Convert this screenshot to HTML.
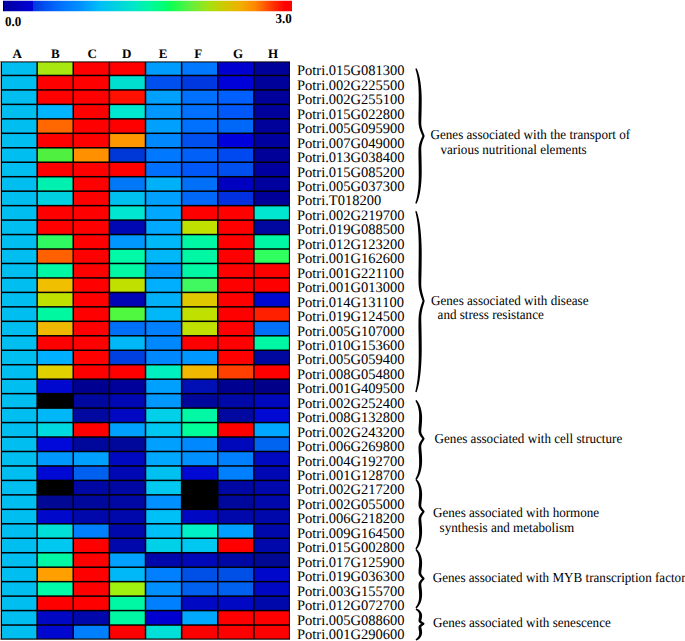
<!DOCTYPE html>
<html><head><meta charset="utf-8"><style>
html,body{margin:0;padding:0;background:#fff;width:685px;height:641px;overflow:hidden;font-family:"Liberation Serif",serif;}
svg{display:block;text-rendering:geometricPrecision}
</style></head><body>
<svg width="685" height="641" viewBox="0 0 685 641"><defs><linearGradient id="cb" x1="3" x2="292" y1="0" y2="0" gradientUnits="userSpaceOnUse"><stop offset="0.0000" stop-color="#000000"/><stop offset="0.0035" stop-color="#000000"/><stop offset="0.0052" stop-color="#0000A0"/><stop offset="0.1038" stop-color="#0000D8"/><stop offset="0.1048" stop-color="#0038E0"/><stop offset="0.1453" stop-color="#0050F0"/><stop offset="0.1972" stop-color="#0070FF"/><stop offset="0.2664" stop-color="#0090FF"/><stop offset="0.3356" stop-color="#00BEF8"/><stop offset="0.3875" stop-color="#00D0E0"/><stop offset="0.4567" stop-color="#00E8C8"/><stop offset="0.5087" stop-color="#00F8A0"/><stop offset="0.5606" stop-color="#00FF70"/><stop offset="0.5848" stop-color="#10FF50"/><stop offset="0.6471" stop-color="#60F040"/><stop offset="0.7163" stop-color="#A8E010"/><stop offset="0.7682" stop-color="#D0C800"/><stop offset="0.8201" stop-color="#F0B000"/><stop offset="0.8720" stop-color="#FF8800"/><stop offset="0.9239" stop-color="#FF4000"/><stop offset="0.9758" stop-color="#FF0000"/><stop offset="1.0000" stop-color="#FF0000"/></linearGradient></defs><rect x="3" y="0.75" width="289" height="10.5" fill="url(#cb)"/><g font-family="Liberation Serif" font-weight="bold" font-size="13" fill="#000"><text transform="translate(5.1,25.9) scale(1,1.05)">0.0</text><text transform="translate(275.6,23.1) scale(1,1.05)">3.0</text><text x="17.2" y="57.6" text-anchor="middle">A</text><text x="55.3" y="57.6" text-anchor="middle">B</text><text x="92.2" y="57.6" text-anchor="middle">C</text><text x="126.7" y="57.6" text-anchor="middle">D</text><text x="163" y="57.6" text-anchor="middle">E</text><text x="198.2" y="57.6" text-anchor="middle">F</text><text x="238" y="57.6" text-anchor="middle">G</text><text x="273" y="57.6" text-anchor="middle">H</text></g><rect x="0" y="61" width="290" height="579" fill="#8C8484"/><rect x="0" y="61.6" width="1" height="578" fill="#BCA8A2"/><rect x="1" y="61.8" width="289" height="577.6" fill="#000"/><rect x="2" y="62.4" width="34.38" height="12.31" fill="#00BEF0"/><rect x="37.88" y="62.4" width="34.62" height="12.31" fill="#A8E810"/><rect x="74" y="62.4" width="34.62" height="12.31" fill="#FF0000"/><rect x="110.12" y="62.4" width="34.62" height="12.31" fill="#FF0000"/><rect x="146.25" y="62.4" width="34.62" height="12.31" fill="#009CFF"/><rect x="182.38" y="62.4" width="34.62" height="12.31" fill="#0078FF"/><rect x="218.5" y="62.4" width="34.62" height="12.31" fill="#0000D0"/><rect x="254.62" y="62.4" width="34.27" height="12.31" fill="#00009A"/><rect x="2" y="76.21" width="34.38" height="12.96" fill="#00BEF0"/><rect x="37.88" y="76.21" width="34.62" height="12.96" fill="#FF0000"/><rect x="74" y="76.21" width="34.62" height="12.96" fill="#FF0000"/><rect x="110.12" y="76.21" width="34.62" height="12.96" fill="#00E0D0"/><rect x="146.25" y="76.21" width="34.62" height="12.96" fill="#0050F0"/><rect x="182.38" y="76.21" width="34.62" height="12.96" fill="#0038E0"/><rect x="218.5" y="76.21" width="34.62" height="12.96" fill="#0000D8"/><rect x="254.62" y="76.21" width="34.27" height="12.96" fill="#00009A"/><rect x="2" y="90.67" width="34.38" height="12.96" fill="#00BEF0"/><rect x="37.88" y="90.67" width="34.62" height="12.96" fill="#FF0000"/><rect x="74" y="90.67" width="34.62" height="12.96" fill="#FF0000"/><rect x="110.12" y="90.67" width="34.62" height="12.96" fill="#FF1000"/><rect x="146.25" y="90.67" width="34.62" height="12.96" fill="#00A0FF"/><rect x="182.38" y="90.67" width="34.62" height="12.96" fill="#0070FF"/><rect x="218.5" y="90.67" width="34.62" height="12.96" fill="#0060FF"/><rect x="254.62" y="90.67" width="34.27" height="12.96" fill="#00009A"/><rect x="2" y="105.14" width="34.38" height="12.96" fill="#00BEF0"/><rect x="37.88" y="105.14" width="34.62" height="12.96" fill="#00B4FF"/><rect x="74" y="105.14" width="34.62" height="12.96" fill="#FF0000"/><rect x="110.12" y="105.14" width="34.62" height="12.96" fill="#00E8D0"/><rect x="146.25" y="105.14" width="34.62" height="12.96" fill="#0098FF"/><rect x="182.38" y="105.14" width="34.62" height="12.96" fill="#0070FF"/><rect x="218.5" y="105.14" width="34.62" height="12.96" fill="#0058F8"/><rect x="254.62" y="105.14" width="34.27" height="12.96" fill="#00009A"/><rect x="2" y="119.6" width="34.38" height="12.96" fill="#00BEF0"/><rect x="37.88" y="119.6" width="34.62" height="12.96" fill="#FF6800"/><rect x="74" y="119.6" width="34.62" height="12.96" fill="#FF0000"/><rect x="110.12" y="119.6" width="34.62" height="12.96" fill="#FF0000"/><rect x="146.25" y="119.6" width="34.62" height="12.96" fill="#00A0FF"/><rect x="182.38" y="119.6" width="34.62" height="12.96" fill="#0070FF"/><rect x="218.5" y="119.6" width="34.62" height="12.96" fill="#0068F8"/><rect x="254.62" y="119.6" width="34.27" height="12.96" fill="#00009A"/><rect x="2" y="134.06" width="34.38" height="12.96" fill="#00BEF0"/><rect x="37.88" y="134.06" width="34.62" height="12.96" fill="#FF0000"/><rect x="74" y="134.06" width="34.62" height="12.96" fill="#FF0000"/><rect x="110.12" y="134.06" width="34.62" height="12.96" fill="#FF9800"/><rect x="146.25" y="134.06" width="34.62" height="12.96" fill="#0088FF"/><rect x="182.38" y="134.06" width="34.62" height="12.96" fill="#0050F0"/><rect x="218.5" y="134.06" width="34.62" height="12.96" fill="#0000DC"/><rect x="254.62" y="134.06" width="34.27" height="12.96" fill="#00009E"/><rect x="2" y="148.53" width="34.38" height="12.96" fill="#00BEF0"/><rect x="37.88" y="148.53" width="34.62" height="12.96" fill="#50F040"/><rect x="74" y="148.53" width="34.62" height="12.96" fill="#FF9000"/><rect x="110.12" y="148.53" width="34.62" height="12.96" fill="#0038D8"/><rect x="146.25" y="148.53" width="34.62" height="12.96" fill="#0078FF"/><rect x="182.38" y="148.53" width="34.62" height="12.96" fill="#0060F8"/><rect x="218.5" y="148.53" width="34.62" height="12.96" fill="#0048F0"/><rect x="254.62" y="148.53" width="34.27" height="12.96" fill="#000098"/><rect x="2" y="162.99" width="34.38" height="12.96" fill="#00BEF0"/><rect x="37.88" y="162.99" width="34.62" height="12.96" fill="#FF0000"/><rect x="74" y="162.99" width="34.62" height="12.96" fill="#FF0000"/><rect x="110.12" y="162.99" width="34.62" height="12.96" fill="#FF0000"/><rect x="146.25" y="162.99" width="34.62" height="12.96" fill="#0070FF"/><rect x="182.38" y="162.99" width="34.62" height="12.96" fill="#0058F8"/><rect x="218.5" y="162.99" width="34.62" height="12.96" fill="#0050F0"/><rect x="254.62" y="162.99" width="34.27" height="12.96" fill="#00009E"/><rect x="2" y="177.45" width="34.38" height="12.96" fill="#00BEF0"/><rect x="37.88" y="177.45" width="34.62" height="12.96" fill="#00F0B0"/><rect x="74" y="177.45" width="34.62" height="12.96" fill="#FF0000"/><rect x="110.12" y="177.45" width="34.62" height="12.96" fill="#0078F8"/><rect x="146.25" y="177.45" width="34.62" height="12.96" fill="#00B0F8"/><rect x="182.38" y="177.45" width="34.62" height="12.96" fill="#0070F8"/><rect x="218.5" y="177.45" width="34.62" height="12.96" fill="#0000C0"/><rect x="254.62" y="177.45" width="34.27" height="12.96" fill="#00009E"/><rect x="2" y="191.91" width="34.38" height="12.96" fill="#00BEF0"/><rect x="37.88" y="191.91" width="34.62" height="12.96" fill="#00D0E0"/><rect x="74" y="191.91" width="34.62" height="12.96" fill="#FF0000"/><rect x="110.12" y="191.91" width="34.62" height="12.96" fill="#00C0F0"/><rect x="146.25" y="191.91" width="34.62" height="12.96" fill="#00A0FF"/><rect x="182.38" y="191.91" width="34.62" height="12.96" fill="#0068F8"/><rect x="218.5" y="191.91" width="34.62" height="12.96" fill="#0030E0"/><rect x="254.62" y="191.91" width="34.27" height="12.96" fill="#000098"/><rect x="2" y="206.38" width="34.38" height="12.96" fill="#00BEF0"/><rect x="37.88" y="206.38" width="34.62" height="12.96" fill="#FF0000"/><rect x="74" y="206.38" width="34.62" height="12.96" fill="#FF0000"/><rect x="110.12" y="206.38" width="34.62" height="12.96" fill="#00E6D0"/><rect x="146.25" y="206.38" width="34.62" height="12.96" fill="#00A8FF"/><rect x="182.38" y="206.38" width="34.62" height="12.96" fill="#FF0000"/><rect x="218.5" y="206.38" width="34.62" height="12.96" fill="#FF0000"/><rect x="254.62" y="206.38" width="34.27" height="12.96" fill="#00E6D0"/><rect x="2" y="220.84" width="34.38" height="12.96" fill="#00BEF0"/><rect x="37.88" y="220.84" width="34.62" height="12.96" fill="#FF0000"/><rect x="74" y="220.84" width="34.62" height="12.96" fill="#FF0000"/><rect x="110.12" y="220.84" width="34.62" height="12.96" fill="#0008B4"/><rect x="146.25" y="220.84" width="34.62" height="12.96" fill="#00A8FF"/><rect x="182.38" y="220.84" width="34.62" height="12.96" fill="#C0E000"/><rect x="218.5" y="220.84" width="34.62" height="12.96" fill="#FF0000"/><rect x="254.62" y="220.84" width="34.27" height="12.96" fill="#0008A0"/><rect x="2" y="235.3" width="34.38" height="12.96" fill="#00BEF0"/><rect x="37.88" y="235.3" width="34.62" height="12.96" fill="#30F860"/><rect x="74" y="235.3" width="34.62" height="12.96" fill="#FF0000"/><rect x="110.12" y="235.3" width="34.62" height="12.96" fill="#0098FF"/><rect x="146.25" y="235.3" width="34.62" height="12.96" fill="#00B8F8"/><rect x="182.38" y="235.3" width="34.62" height="12.96" fill="#00F8A4"/><rect x="218.5" y="235.3" width="34.62" height="12.96" fill="#FF0000"/><rect x="254.62" y="235.3" width="34.27" height="12.96" fill="#00F8A4"/><rect x="2" y="249.76" width="34.38" height="12.96" fill="#00BEF0"/><rect x="37.88" y="249.76" width="34.62" height="12.96" fill="#FF6000"/><rect x="74" y="249.76" width="34.62" height="12.96" fill="#FF0000"/><rect x="110.12" y="249.76" width="34.62" height="12.96" fill="#00FAA8"/><rect x="146.25" y="249.76" width="34.62" height="12.96" fill="#00B8F8"/><rect x="182.38" y="249.76" width="34.62" height="12.96" fill="#00F8A4"/><rect x="218.5" y="249.76" width="34.62" height="12.96" fill="#FF0000"/><rect x="254.62" y="249.76" width="34.27" height="12.96" fill="#30FF60"/><rect x="2" y="264.23" width="34.38" height="12.96" fill="#00BEF0"/><rect x="37.88" y="264.23" width="34.62" height="12.96" fill="#00F8A4"/><rect x="74" y="264.23" width="34.62" height="12.96" fill="#FF0000"/><rect x="110.12" y="264.23" width="34.62" height="12.96" fill="#00F8A4"/><rect x="146.25" y="264.23" width="34.62" height="12.96" fill="#0098FF"/><rect x="182.38" y="264.23" width="34.62" height="12.96" fill="#00F8A4"/><rect x="218.5" y="264.23" width="34.62" height="12.96" fill="#FF0000"/><rect x="254.62" y="264.23" width="34.27" height="12.96" fill="#FF0000"/><rect x="2" y="278.69" width="34.38" height="12.96" fill="#00BEF0"/><rect x="37.88" y="278.69" width="34.62" height="12.96" fill="#F0C000"/><rect x="74" y="278.69" width="34.62" height="12.96" fill="#FF0000"/><rect x="110.12" y="278.69" width="34.62" height="12.96" fill="#C0E000"/><rect x="146.25" y="278.69" width="34.62" height="12.96" fill="#00B0FF"/><rect x="182.38" y="278.69" width="34.62" height="12.96" fill="#40F860"/><rect x="218.5" y="278.69" width="34.62" height="12.96" fill="#FF0000"/><rect x="254.62" y="278.69" width="34.27" height="12.96" fill="#FF0000"/><rect x="2" y="293.15" width="34.38" height="12.96" fill="#00BEF0"/><rect x="37.88" y="293.15" width="34.62" height="12.96" fill="#C0E000"/><rect x="74" y="293.15" width="34.62" height="12.96" fill="#FF0000"/><rect x="110.12" y="293.15" width="34.62" height="12.96" fill="#0004B4"/><rect x="146.25" y="293.15" width="34.62" height="12.96" fill="#00B0F8"/><rect x="182.38" y="293.15" width="34.62" height="12.96" fill="#E0C800"/><rect x="218.5" y="293.15" width="34.62" height="12.96" fill="#FF0000"/><rect x="254.62" y="293.15" width="34.27" height="12.96" fill="#0008D0"/><rect x="2" y="307.61" width="34.38" height="12.96" fill="#00BEF0"/><rect x="37.88" y="307.61" width="34.62" height="12.96" fill="#00F8A0"/><rect x="74" y="307.61" width="34.62" height="12.96" fill="#FF0000"/><rect x="110.12" y="307.61" width="34.62" height="12.96" fill="#50F840"/><rect x="146.25" y="307.61" width="34.62" height="12.96" fill="#00B8F8"/><rect x="182.38" y="307.61" width="34.62" height="12.96" fill="#C0E000"/><rect x="218.5" y="307.61" width="34.62" height="12.96" fill="#FF0000"/><rect x="254.62" y="307.61" width="34.27" height="12.96" fill="#FF2000"/><rect x="2" y="322.07" width="34.38" height="12.96" fill="#00BEF0"/><rect x="37.88" y="322.07" width="34.62" height="12.96" fill="#F0B800"/><rect x="74" y="322.07" width="34.62" height="12.96" fill="#FF0000"/><rect x="110.12" y="322.07" width="34.62" height="12.96" fill="#0070F8"/><rect x="146.25" y="322.07" width="34.62" height="12.96" fill="#0080FF"/><rect x="182.38" y="322.07" width="34.62" height="12.96" fill="#C0E000"/><rect x="218.5" y="322.07" width="34.62" height="12.96" fill="#FF0000"/><rect x="254.62" y="322.07" width="34.27" height="12.96" fill="#0070F8"/><rect x="2" y="336.54" width="34.38" height="12.96" fill="#00BEF0"/><rect x="37.88" y="336.54" width="34.62" height="12.96" fill="#FF0000"/><rect x="74" y="336.54" width="34.62" height="12.96" fill="#FF0000"/><rect x="110.12" y="336.54" width="34.62" height="12.96" fill="#00B8F8"/><rect x="146.25" y="336.54" width="34.62" height="12.96" fill="#0088FF"/><rect x="182.38" y="336.54" width="34.62" height="12.96" fill="#FF0000"/><rect x="218.5" y="336.54" width="34.62" height="12.96" fill="#FF0000"/><rect x="254.62" y="336.54" width="34.27" height="12.96" fill="#00F8A4"/><rect x="2" y="351" width="34.38" height="12.96" fill="#00BEF0"/><rect x="37.88" y="351" width="34.62" height="12.96" fill="#00B0FF"/><rect x="74" y="351" width="34.62" height="12.96" fill="#FF0000"/><rect x="110.12" y="351" width="34.62" height="12.96" fill="#0040E0"/><rect x="146.25" y="351" width="34.62" height="12.96" fill="#0088FF"/><rect x="182.38" y="351" width="34.62" height="12.96" fill="#0098FF"/><rect x="218.5" y="351" width="34.62" height="12.96" fill="#FF0000"/><rect x="254.62" y="351" width="34.27" height="12.96" fill="#0008A0"/><rect x="2" y="365.46" width="34.38" height="12.96" fill="#00BEF0"/><rect x="37.88" y="365.46" width="34.62" height="12.96" fill="#E0D000"/><rect x="74" y="365.46" width="34.62" height="12.96" fill="#FF0000"/><rect x="110.12" y="365.46" width="34.62" height="12.96" fill="#FF0000"/><rect x="146.25" y="365.46" width="34.62" height="12.96" fill="#00F0C0"/><rect x="182.38" y="365.46" width="34.62" height="12.96" fill="#F0B800"/><rect x="218.5" y="365.46" width="34.62" height="12.96" fill="#FF4000"/><rect x="254.62" y="365.46" width="34.27" height="12.96" fill="#FF0000"/><rect x="2" y="379.93" width="34.38" height="12.96" fill="#00BEF0"/><rect x="37.88" y="379.93" width="34.62" height="12.96" fill="#0008D0"/><rect x="74" y="379.93" width="34.62" height="12.96" fill="#000090"/><rect x="110.12" y="379.93" width="34.62" height="12.96" fill="#00009A"/><rect x="146.25" y="379.93" width="34.62" height="12.96" fill="#00A0FF"/><rect x="182.38" y="379.93" width="34.62" height="12.96" fill="#0010B4"/><rect x="218.5" y="379.93" width="34.62" height="12.96" fill="#000090"/><rect x="254.62" y="379.93" width="34.27" height="12.96" fill="#000088"/><rect x="2" y="394.39" width="34.38" height="12.96" fill="#00BEF0"/><rect x="37.88" y="394.39" width="34.62" height="12.96" fill="#000000"/><rect x="74" y="394.39" width="34.62" height="12.96" fill="#0008A0"/><rect x="110.12" y="394.39" width="34.62" height="12.96" fill="#0008B4"/><rect x="146.25" y="394.39" width="34.62" height="12.96" fill="#0098FF"/><rect x="182.38" y="394.39" width="34.62" height="12.96" fill="#00089C"/><rect x="218.5" y="394.39" width="34.62" height="12.96" fill="#0008A8"/><rect x="254.62" y="394.39" width="34.27" height="12.96" fill="#0008BC"/><rect x="2" y="408.85" width="34.38" height="12.96" fill="#00BEF0"/><rect x="37.88" y="408.85" width="34.62" height="12.96" fill="#00B8F8"/><rect x="74" y="408.85" width="34.62" height="12.96" fill="#0008A0"/><rect x="110.12" y="408.85" width="34.62" height="12.96" fill="#0008C4"/><rect x="146.25" y="408.85" width="34.62" height="12.96" fill="#00D0E8"/><rect x="182.38" y="408.85" width="34.62" height="12.96" fill="#00F8A4"/><rect x="218.5" y="408.85" width="34.62" height="12.96" fill="#0008A0"/><rect x="254.62" y="408.85" width="34.27" height="12.96" fill="#0008D4"/><rect x="2" y="423.31" width="34.38" height="12.96" fill="#00BEF0"/><rect x="37.88" y="423.31" width="34.62" height="12.96" fill="#00D8E0"/><rect x="74" y="423.31" width="34.62" height="12.96" fill="#FF0000"/><rect x="110.12" y="423.31" width="34.62" height="12.96" fill="#00A0FF"/><rect x="146.25" y="423.31" width="34.62" height="12.96" fill="#00C8F0"/><rect x="182.38" y="423.31" width="34.62" height="12.96" fill="#00FF98"/><rect x="218.5" y="423.31" width="34.62" height="12.96" fill="#FF0000"/><rect x="254.62" y="423.31" width="34.27" height="12.96" fill="#00A8FF"/><rect x="2" y="437.78" width="34.38" height="12.96" fill="#00BEF0"/><rect x="37.88" y="437.78" width="34.62" height="12.96" fill="#0008DA"/><rect x="74" y="437.78" width="34.62" height="12.96" fill="#00089C"/><rect x="110.12" y="437.78" width="34.62" height="12.96" fill="#00089C"/><rect x="146.25" y="437.78" width="34.62" height="12.96" fill="#00A0FF"/><rect x="182.38" y="437.78" width="34.62" height="12.96" fill="#0088FF"/><rect x="218.5" y="437.78" width="34.62" height="12.96" fill="#0008BC"/><rect x="254.62" y="437.78" width="34.27" height="12.96" fill="#0064F0"/><rect x="2" y="452.24" width="34.38" height="12.96" fill="#00BEF0"/><rect x="37.88" y="452.24" width="34.62" height="12.96" fill="#0098FF"/><rect x="74" y="452.24" width="34.62" height="12.96" fill="#00A0FF"/><rect x="110.12" y="452.24" width="34.62" height="12.96" fill="#0008C0"/><rect x="146.25" y="452.24" width="34.62" height="12.96" fill="#00A8FF"/><rect x="182.38" y="452.24" width="34.62" height="12.96" fill="#0090FF"/><rect x="218.5" y="452.24" width="34.62" height="12.96" fill="#0080FF"/><rect x="254.62" y="452.24" width="34.27" height="12.96" fill="#0008C0"/><rect x="2" y="466.7" width="34.38" height="12.96" fill="#00BEF0"/><rect x="37.88" y="466.7" width="34.62" height="12.96" fill="#0008D4"/><rect x="74" y="466.7" width="34.62" height="12.96" fill="#0060F0"/><rect x="110.12" y="466.7" width="34.62" height="12.96" fill="#0008B4"/><rect x="146.25" y="466.7" width="34.62" height="12.96" fill="#00C0F0"/><rect x="182.38" y="466.7" width="34.62" height="12.96" fill="#0008D4"/><rect x="218.5" y="466.7" width="34.62" height="12.96" fill="#0080FF"/><rect x="254.62" y="466.7" width="34.27" height="12.96" fill="#0008B4"/><rect x="2" y="481.16" width="34.38" height="12.96" fill="#00BEF0"/><rect x="37.88" y="481.16" width="34.62" height="12.96" fill="#000000"/><rect x="74" y="481.16" width="34.62" height="12.96" fill="#0008A4"/><rect x="110.12" y="481.16" width="34.62" height="12.96" fill="#0008A4"/><rect x="146.25" y="481.16" width="34.62" height="12.96" fill="#00C8F0"/><rect x="182.38" y="481.16" width="34.62" height="12.96" fill="#000000"/><rect x="218.5" y="481.16" width="34.62" height="12.96" fill="#0008A4"/><rect x="254.62" y="481.16" width="34.27" height="12.96" fill="#0008AC"/><rect x="2" y="495.62" width="34.38" height="12.96" fill="#00BEF0"/><rect x="37.88" y="495.62" width="34.62" height="12.96" fill="#000894"/><rect x="74" y="495.62" width="34.62" height="12.96" fill="#00089C"/><rect x="110.12" y="495.62" width="34.62" height="12.96" fill="#0008A4"/><rect x="146.25" y="495.62" width="34.62" height="12.96" fill="#0090FF"/><rect x="182.38" y="495.62" width="34.62" height="12.96" fill="#000000"/><rect x="218.5" y="495.62" width="34.62" height="12.96" fill="#00089C"/><rect x="254.62" y="495.62" width="34.27" height="12.96" fill="#0008AC"/><rect x="2" y="510.09" width="34.38" height="12.96" fill="#00BEF0"/><rect x="37.88" y="510.09" width="34.62" height="12.96" fill="#0008CC"/><rect x="74" y="510.09" width="34.62" height="12.96" fill="#0008AC"/><rect x="110.12" y="510.09" width="34.62" height="12.96" fill="#0008AC"/><rect x="146.25" y="510.09" width="34.62" height="12.96" fill="#00C0F8"/><rect x="182.38" y="510.09" width="34.62" height="12.96" fill="#0008C4"/><rect x="218.5" y="510.09" width="34.62" height="12.96" fill="#0008AC"/><rect x="254.62" y="510.09" width="34.27" height="12.96" fill="#0008AC"/><rect x="2" y="524.55" width="34.38" height="12.96" fill="#00BEF0"/><rect x="37.88" y="524.55" width="34.62" height="12.96" fill="#00E0D8"/><rect x="74" y="524.55" width="34.62" height="12.96" fill="#0080FF"/><rect x="110.12" y="524.55" width="34.62" height="12.96" fill="#0008AC"/><rect x="146.25" y="524.55" width="34.62" height="12.96" fill="#00C0F8"/><rect x="182.38" y="524.55" width="34.62" height="12.96" fill="#00F0C8"/><rect x="218.5" y="524.55" width="34.62" height="12.96" fill="#00A0FF"/><rect x="254.62" y="524.55" width="34.27" height="12.96" fill="#0008AC"/><rect x="2" y="539.01" width="34.38" height="12.96" fill="#00BEF0"/><rect x="37.88" y="539.01" width="34.62" height="12.96" fill="#00C8F0"/><rect x="74" y="539.01" width="34.62" height="12.96" fill="#FF0000"/><rect x="110.12" y="539.01" width="34.62" height="12.96" fill="#0008AC"/><rect x="146.25" y="539.01" width="34.62" height="12.96" fill="#00D0E8"/><rect x="182.38" y="539.01" width="34.62" height="12.96" fill="#00C8F0"/><rect x="218.5" y="539.01" width="34.62" height="12.96" fill="#FF0000"/><rect x="254.62" y="539.01" width="34.27" height="12.96" fill="#0008AC"/><rect x="2" y="553.48" width="34.38" height="12.96" fill="#00BEF0"/><rect x="37.88" y="553.48" width="34.62" height="12.96" fill="#00F8A4"/><rect x="74" y="553.48" width="34.62" height="12.96" fill="#FF0000"/><rect x="110.12" y="553.48" width="34.62" height="12.96" fill="#00A0FF"/><rect x="146.25" y="553.48" width="34.62" height="12.96" fill="#0008AC"/><rect x="182.38" y="553.48" width="34.62" height="12.96" fill="#0008B8"/><rect x="218.5" y="553.48" width="34.62" height="12.96" fill="#0008A4"/><rect x="254.62" y="553.48" width="34.27" height="12.96" fill="#000894"/><rect x="2" y="567.94" width="34.38" height="12.96" fill="#00BEF0"/><rect x="37.88" y="567.94" width="34.62" height="12.96" fill="#FFA000"/><rect x="74" y="567.94" width="34.62" height="12.96" fill="#FF0000"/><rect x="110.12" y="567.94" width="34.62" height="12.96" fill="#00B8F8"/><rect x="146.25" y="567.94" width="34.62" height="12.96" fill="#0080FF"/><rect x="182.38" y="567.94" width="34.62" height="12.96" fill="#0050E8"/><rect x="218.5" y="567.94" width="34.62" height="12.96" fill="#0050E8"/><rect x="254.62" y="567.94" width="34.27" height="12.96" fill="#0008CC"/><rect x="2" y="582.4" width="34.38" height="12.96" fill="#00BEF0"/><rect x="37.88" y="582.4" width="34.62" height="12.96" fill="#00FAA8"/><rect x="74" y="582.4" width="34.62" height="12.96" fill="#FF0000"/><rect x="110.12" y="582.4" width="34.62" height="12.96" fill="#A0F010"/><rect x="146.25" y="582.4" width="34.62" height="12.96" fill="#0090FF"/><rect x="182.38" y="582.4" width="34.62" height="12.96" fill="#0060F0"/><rect x="218.5" y="582.4" width="34.62" height="12.96" fill="#0060F0"/><rect x="254.62" y="582.4" width="34.27" height="12.96" fill="#0008C4"/><rect x="2" y="596.86" width="34.38" height="12.96" fill="#00BEF0"/><rect x="37.88" y="596.86" width="34.62" height="12.96" fill="#FF0000"/><rect x="74" y="596.86" width="34.62" height="12.96" fill="#FF0000"/><rect x="110.12" y="596.86" width="34.62" height="12.96" fill="#00F8A4"/><rect x="146.25" y="596.86" width="34.62" height="12.96" fill="#0080FF"/><rect x="182.38" y="596.86" width="34.62" height="12.96" fill="#0008C4"/><rect x="218.5" y="596.86" width="34.62" height="12.96" fill="#0008C4"/><rect x="254.62" y="596.86" width="34.27" height="12.96" fill="#0008AC"/><rect x="2" y="611.33" width="34.38" height="12.96" fill="#00BEF0"/><rect x="37.88" y="611.33" width="34.62" height="12.96" fill="#0008C4"/><rect x="74" y="611.33" width="34.62" height="12.96" fill="#0008AC"/><rect x="110.12" y="611.33" width="34.62" height="12.96" fill="#00F8A4"/><rect x="146.25" y="611.33" width="34.62" height="12.96" fill="#0000D0"/><rect x="182.38" y="611.33" width="34.62" height="12.96" fill="#00A8FF"/><rect x="218.5" y="611.33" width="34.62" height="12.96" fill="#FF0000"/><rect x="254.62" y="611.33" width="34.27" height="12.96" fill="#FF0000"/><rect x="2" y="625.79" width="34.38" height="12.71" fill="#00BEF0"/><rect x="37.88" y="625.79" width="34.62" height="12.71" fill="#0008D0"/><rect x="74" y="625.79" width="34.62" height="12.71" fill="#0080FF"/><rect x="110.12" y="625.79" width="34.62" height="12.71" fill="#FF0000"/><rect x="146.25" y="625.79" width="34.62" height="12.71" fill="#00E0D8"/><rect x="182.38" y="625.79" width="34.62" height="12.71" fill="#FF0000"/><rect x="218.5" y="625.79" width="34.62" height="12.71" fill="#FF0000"/><rect x="254.62" y="625.79" width="34.27" height="12.71" fill="#FF0000"/><g font-family="Liberation Serif" font-size="14.5" fill="#000"><text x="297" y="75.4">Potri.015G081300</text><text x="297" y="89.85">Potri.002G225500</text><text x="297" y="104.3">Potri.002G255100</text><text x="297" y="118.75">Potri.015G022800</text><text x="297" y="133.2">Potri.005G095900</text><text x="297" y="147.65">Potri.007G049000</text><text x="297" y="162.1">Potri.013G038400</text><text x="297" y="176.55">Potri.015G085200</text><text x="297" y="191">Potri.005G037300</text><text x="297" y="205.45">Potri.T018200</text><text x="297" y="219.9">Potri.002G219700</text><text x="297" y="234.35">Potri.019G088500</text><text x="297" y="248.8">Potri.012G123200</text><text x="297" y="263.25">Potri.001G162600</text><text x="297" y="277.7">Potri.001G221100</text><text x="297" y="292.15">Potri.001G013000</text><text x="297" y="306.6">Potri.014G131100</text><text x="297" y="321.05">Potri.019G124500</text><text x="297" y="335.5">Potri.005G107000</text><text x="297" y="349.95">Potri.010G153600</text><text x="297" y="364.4">Potri.005G059400</text><text x="297" y="378.85">Potri.008G054800</text><text x="297" y="393.3">Potri.001G409500</text><text x="297" y="407.75">Potri.002G252400</text><text x="297" y="422.2">Potri.008G132800</text><text x="297" y="436.65">Potri.002G243200</text><text x="297" y="451.1">Potri.006G269800</text><text x="297" y="465.55">Potri.004G192700</text><text x="297" y="480">Potri.001G128700</text><text x="297" y="494.45">Potri.002G217200</text><text x="297" y="508.9">Potri.002G055000</text><text x="297" y="523.35">Potri.006G218200</text><text x="297" y="537.8">Potri.009G164500</text><text x="297" y="552.25">Potri.015G002800</text><text x="297" y="566.7">Potri.017G125900</text><text x="297" y="581.15">Potri.019G036300</text><text x="297" y="595.6">Potri.003G155700</text><text x="297" y="610.05">Potri.012G072700</text><text x="297" y="624.5">Potri.005G088600</text><text x="297" y="638.95">Potri.001G290600</text></g><path d="M415.3,68.65 L415.47,69.28 L415.68,69.94 L415.89,70.64 L416.11,71.39 L416.32,72.18 L416.53,73.02 L416.75,73.92 L416.95,74.86 L417.15,75.87 L417.35,76.93 L417.54,78.05 L417.71,79.23 L417.88,80.47 L418.03,81.78 L418.18,83.16 L418.31,84.6 L418.42,86.11 L418.52,87.7 L418.6,89.36 L418.66,91.09 L418.7,92.9 L418.72,94.8 L418.72,96.77 L418.7,98.82 L418.7,100.89 L418.69,102.79 L418.67,104.56 L418.65,106.2 L418.63,107.74 L418.61,109.19 L418.58,110.57 L418.55,111.89 L418.52,113.17 L418.5,114.43 L418.47,115.68 L418.47,116.95 L418.48,118.25 L418.5,119.59 L418.52,121 L418.55,122.49 L418.6,123.54 L418.69,124.57 L418.82,125.56 L418.99,126.52 L419.2,127.46 L419.43,128.37 L419.7,129.25 L419.98,130.11 L420.28,130.95 L420.6,131.77 L420.93,132.57 L421.27,133.36 L421.61,134.14 L421.96,134.9 L422.3,135.66 L422.55,136 L422.3,136.34 L421.96,137.09 L421.61,137.86 L421.27,138.63 L420.93,139.41 L420.6,140.21 L420.29,141.03 L419.98,141.87 L419.7,142.73 L419.43,143.61 L419.2,144.51 L418.99,145.45 L418.82,146.41 L418.69,147.4 L418.6,148.42 L418.55,149.47 L418.52,150.96 L418.5,152.36 L418.48,153.7 L418.47,154.99 L418.47,156.26 L418.5,157.51 L418.52,158.77 L418.55,160.04 L418.58,161.36 L418.61,162.73 L418.63,164.17 L418.65,165.71 L418.67,167.35 L418.69,169.11 L418.7,171.01 L418.7,173.07 L418.72,175.12 L418.72,177.08 L418.7,178.97 L418.66,180.77 L418.6,182.5 L418.52,184.16 L418.42,185.74 L418.31,187.25 L418.18,188.69 L418.04,190.06 L417.88,191.36 L417.71,192.6 L417.54,193.78 L417.35,194.9 L417.15,195.95 L416.95,196.95 L416.75,197.9 L416.53,198.79 L416.32,199.63 L416.11,200.42 L415.89,201.16 L415.68,201.86 L415.47,202.52 L415.3,203.15 L416.5,203.65 L416.83,203.06 L417.13,202.41 L417.43,201.7 L417.72,200.95 L418.01,200.15 L418.3,199.29 L418.58,198.38 L418.85,197.42 L419.12,196.39 L419.39,195.31 L419.64,194.17 L419.89,192.97 L420.12,191.7 L420.35,190.37 L420.56,188.97 L420.75,187.5 L420.93,185.96 L421.1,184.35 L421.25,182.67 L421.38,180.91 L421.49,179.07 L421.58,177.15 L421.65,175.15 L421.7,173.07 L421.7,171 L421.69,169.09 L421.67,167.32 L421.65,165.67 L421.63,164.13 L421.6,162.68 L421.58,161.3 L421.55,159.98 L421.52,158.7 L421.49,157.45 L421.47,156.2 L421.42,154.94 L421.37,153.66 L421.33,152.33 L421.29,150.95 L421.25,149.49 L421.25,148.54 L421.29,147.64 L421.37,146.75 L421.48,145.89 L421.63,145.04 L421.81,144.22 L422.01,143.4 L422.24,142.6 L422.49,141.81 L422.76,141.03 L423.04,140.25 L423.34,139.48 L423.64,138.71 L423.95,137.94 L424.26,137.18 L424.65,136 L424.26,134.82 L423.95,134.05 L423.64,133.28 L423.34,132.51 L423.04,131.74 L422.76,130.96 L422.49,130.17 L422.24,129.38 L422.01,128.58 L421.81,127.76 L421.63,126.93 L421.48,126.08 L421.37,125.22 L421.29,124.33 L421.25,123.42 L421.25,122.47 L421.29,121.01 L421.33,119.62 L421.37,118.29 L421.42,117 L421.47,115.74 L421.49,114.49 L421.52,113.23 L421.55,111.95 L421.58,110.63 L421.6,109.25 L421.63,107.79 L421.65,106.24 L421.67,104.59 L421.69,102.81 L421.7,100.9 L421.7,98.82 L421.65,96.73 L421.58,94.73 L421.49,92.81 L421.38,90.96 L421.25,89.2 L421.1,87.51 L420.93,85.89 L420.75,84.35 L420.56,82.87 L420.35,81.47 L420.12,80.13 L419.89,78.86 L419.64,77.66 L419.39,76.51 L419.12,75.43 L418.85,74.4 L418.58,73.44 L418.3,72.52 L418.01,71.66 L417.72,70.86 L417.43,70.1 L417.13,69.4 L416.83,68.74 L416.5,68.15Z" fill="#000"/><path d="M415.28,211.29 L415.45,212.12 L415.66,213 L415.87,213.93 L416.09,214.92 L416.3,215.98 L416.52,217.11 L416.73,218.3 L416.94,219.57 L417.14,220.91 L417.34,222.32 L417.53,223.82 L417.71,225.4 L417.87,227.06 L418.03,228.81 L418.17,230.64 L418.3,232.57 L418.42,234.59 L418.52,236.71 L418.6,238.93 L418.66,241.24 L418.7,243.66 L418.72,246.18 L418.72,248.81 L418.7,251.56 L418.7,254.3 L418.69,256.84 L418.67,259.2 L418.65,261.39 L418.63,263.43 L418.61,265.36 L418.58,267.19 L418.55,268.95 L418.52,270.65 L418.5,272.33 L418.47,274 L418.47,275.68 L418.48,277.41 L418.5,279.19 L418.52,281.05 L418.55,283.03 L418.6,284.39 L418.69,285.72 L418.82,287.02 L418.98,288.27 L419.19,289.49 L419.42,290.68 L419.68,291.84 L419.96,292.97 L420.26,294.07 L420.57,295.15 L420.9,296.21 L421.24,297.26 L421.58,298.29 L421.92,299.3 L422.26,300.31 L422.55,301 L422.26,301.7 L421.92,302.72 L421.58,303.75 L421.24,304.8 L420.9,305.85 L420.57,306.93 L420.26,308.02 L419.96,309.14 L419.68,310.28 L419.42,311.45 L419.19,312.65 L418.98,313.89 L418.82,315.16 L418.69,316.46 L418.6,317.81 L418.55,319.19 L418.52,321.19 L418.5,323.08 L418.48,324.88 L418.47,326.63 L418.47,328.33 L418.5,330.02 L418.52,331.72 L418.55,333.44 L418.58,335.22 L418.61,337.07 L418.63,339.03 L418.65,341.1 L418.67,343.31 L418.69,345.7 L418.7,348.27 L418.7,351.05 L418.72,353.82 L418.72,356.49 L418.7,359.04 L418.66,361.49 L418.6,363.84 L418.52,366.08 L418.42,368.22 L418.3,370.27 L418.17,372.22 L418.03,374.08 L417.87,375.85 L417.71,377.53 L417.53,379.13 L417.34,380.64 L417.14,382.08 L416.94,383.43 L416.73,384.72 L416.52,385.93 L416.3,387.06 L416.09,388.13 L415.87,389.14 L415.66,390.08 L415.45,390.97 L415.28,391.81 L416.52,392.19 L416.85,391.38 L417.15,390.5 L417.45,389.55 L417.74,388.54 L418.03,387.45 L418.31,386.3 L418.59,385.08 L418.87,383.78 L419.14,382.41 L419.4,380.95 L419.65,379.42 L419.89,377.8 L420.13,376.1 L420.35,374.31 L420.56,372.43 L420.76,370.46 L420.94,368.39 L421.1,366.22 L421.25,363.96 L421.38,361.59 L421.49,359.12 L421.58,356.54 L421.65,353.85 L421.7,351.05 L421.7,348.26 L421.69,345.68 L421.67,343.29 L421.65,341.07 L421.63,338.99 L421.6,337.03 L421.58,335.18 L421.55,333.39 L421.52,331.67 L421.49,329.97 L421.47,328.29 L421.42,326.59 L421.37,324.85 L421.33,323.06 L421.29,321.18 L421.25,319.21 L421.25,317.9 L421.29,316.64 L421.37,315.41 L421.49,314.22 L421.65,313.05 L421.83,311.91 L422.04,310.79 L422.27,309.7 L422.52,308.61 L422.79,307.55 L423.08,306.49 L423.37,305.45 L423.68,304.41 L423.99,303.38 L424.3,302.35 L424.65,301 L424.29,299.66 L423.99,298.64 L423.68,297.62 L423.37,296.6 L423.08,295.56 L422.79,294.52 L422.52,293.47 L422.27,292.4 L422.04,291.32 L421.83,290.22 L421.64,289.09 L421.49,287.94 L421.37,286.76 L421.29,285.55 L421.25,284.3 L421.25,283.01 L421.29,281.06 L421.33,279.21 L421.37,277.43 L421.42,275.72 L421.47,274.04 L421.49,272.38 L421.52,270.7 L421.55,269 L421.58,267.24 L421.6,265.4 L421.63,263.47 L421.65,261.42 L421.67,259.22 L421.69,256.86 L421.7,254.31 L421.7,251.55 L421.65,248.79 L421.58,246.13 L421.49,243.58 L421.38,241.14 L421.25,238.8 L421.1,236.56 L420.94,234.42 L420.76,232.38 L420.56,230.43 L420.35,228.57 L420.13,226.8 L419.89,225.12 L419.65,223.52 L419.4,222.01 L419.14,220.57 L418.87,219.22 L418.59,217.93 L418.31,216.72 L418.03,215.59 L417.74,214.52 L417.45,213.52 L417.15,212.58 L416.85,211.71 L416.52,210.91Z" fill="#000"/><path d="M415.37,400.78 L415.56,401.17 L415.77,401.56 L415.99,401.96 L416.22,402.38 L416.44,402.83 L416.67,403.31 L416.9,403.81 L417.12,404.35 L417.34,404.91 L417.55,405.5 L417.76,406.12 L417.95,406.78 L418.14,407.47 L418.31,408.2 L418.48,408.96 L418.62,409.76 L418.75,410.6 L418.87,411.48 L418.96,412.39 L419.04,413.35 L419.09,414.36 L419.12,415.4 L419.12,416.5 L419.1,417.64 L419.09,418.79 L419.07,419.85 L419.04,420.83 L418.99,421.75 L418.94,422.6 L418.88,423.41 L418.82,424.18 L418.76,424.92 L418.69,425.65 L418.63,426.37 L418.57,427.09 L418.54,427.82 L418.52,428.58 L418.52,429.36 L418.53,430.18 L418.55,431.05 L418.6,431.71 L418.7,432.36 L418.85,432.98 L419.03,433.58 L419.25,434.16 L419.51,434.71 L419.78,435.24 L420.08,435.75 L420.39,436.24 L420.72,436.71 L421.06,437.17 L421.4,437.62 L421.74,438.06 L422.09,438.49 L422.42,438.91 L422.55,438.7 L422.41,438.54 L422.07,438.99 L421.73,439.45 L421.38,439.91 L421.04,440.39 L420.7,440.88 L420.38,441.38 L420.07,441.9 L419.77,442.44 L419.49,443 L419.24,443.58 L419.03,444.18 L418.84,444.81 L418.7,445.46 L418.6,446.14 L418.55,446.83 L418.53,447.75 L418.52,448.62 L418.52,449.45 L418.54,450.25 L418.57,451.03 L418.63,451.79 L418.69,452.55 L418.76,453.32 L418.82,454.11 L418.88,454.93 L418.94,455.79 L418.99,456.7 L419.04,457.68 L419.07,458.73 L419.09,459.86 L419.1,461.08 L419.12,462.3 L419.12,463.46 L419.09,464.58 L419.03,465.65 L418.96,466.67 L418.87,467.65 L418.75,468.59 L418.62,469.48 L418.47,470.34 L418.31,471.15 L418.13,471.92 L417.95,472.66 L417.75,473.36 L417.54,474.02 L417.33,474.66 L417.11,475.25 L416.89,475.82 L416.66,476.35 L416.43,476.86 L416.21,477.34 L415.98,477.79 L415.76,478.22 L415.55,478.62 L415.36,479.03 L416.44,479.77 L416.76,479.44 L417.07,479.05 L417.37,478.63 L417.68,478.18 L417.99,477.7 L418.3,477.18 L418.6,476.63 L418.9,476.04 L419.2,475.42 L419.49,474.76 L419.78,474.06 L420.05,473.32 L420.32,472.54 L420.57,471.72 L420.81,470.86 L421.03,469.96 L421.24,469.01 L421.43,468.02 L421.6,466.99 L421.75,465.9 L421.87,464.77 L421.97,463.59 L422.05,462.36 L422.1,461.09 L422.09,459.82 L422.07,458.65 L422.03,457.56 L421.99,456.55 L421.93,455.61 L421.87,454.72 L421.81,453.88 L421.74,453.07 L421.68,452.3 L421.62,451.55 L421.56,450.8 L421.48,450.06 L421.41,449.3 L421.34,448.52 L421.29,447.7 L421.25,446.85 L421.25,446.34 L421.28,445.85 L421.35,445.37 L421.45,444.89 L421.59,444.42 L421.75,443.96 L421.94,443.49 L422.16,443.03 L422.4,442.56 L422.66,442.1 L422.94,441.64 L423.23,441.17 L423.53,440.71 L423.84,440.24 L424.15,439.77 L424.65,438.7 L424.13,437.63 L423.82,437.19 L423.51,436.75 L423.21,436.31 L422.92,435.87 L422.64,435.44 L422.38,435 L422.14,434.57 L421.93,434.13 L421.74,433.7 L421.58,433.26 L421.45,432.83 L421.35,432.39 L421.28,431.95 L421.25,431.5 L421.25,431.03 L421.29,430.23 L421.34,429.46 L421.41,428.73 L421.48,428.02 L421.56,427.32 L421.62,426.62 L421.68,425.92 L421.74,425.19 L421.81,424.43 L421.87,423.64 L421.93,422.8 L421.99,421.91 L422.03,420.96 L422.07,419.93 L422.09,418.83 L422.1,417.63 L422.05,416.43 L421.97,415.27 L421.87,414.15 L421.75,413.09 L421.6,412.06 L421.43,411.08 L421.24,410.15 L421.03,409.25 L420.8,408.4 L420.57,407.59 L420.31,406.82 L420.05,406.08 L419.77,405.39 L419.49,404.73 L419.19,404.11 L418.89,403.52 L418.59,402.96 L418.28,402.44 L417.98,401.96 L417.67,401.5 L417.36,401.08 L417.06,400.68 L416.75,400.32 L416.43,400.02Z" fill="#000"/><path d="M415.41,479.93 L415.6,480.26 L415.81,480.59 L416.03,480.93 L416.25,481.29 L416.48,481.67 L416.71,482.07 L416.93,482.49 L417.15,482.94 L417.37,483.4 L417.58,483.9 L417.78,484.42 L417.98,484.96 L418.16,485.54 L418.33,486.14 L418.49,486.77 L418.63,487.43 L418.76,488.12 L418.87,488.85 L418.97,489.61 L419.04,490.4 L419.09,491.23 L419.12,492.1 L419.12,493 L419.1,493.95 L419.09,494.9 L419.07,495.79 L419.04,496.6 L418.99,497.36 L418.94,498.08 L418.88,498.75 L418.82,499.39 L418.76,500.01 L418.69,500.61 L418.63,501.22 L418.57,501.83 L418.54,502.45 L418.52,503.09 L418.52,503.75 L418.53,504.45 L418.55,505.2 L418.6,505.78 L418.71,506.36 L418.86,506.91 L419.05,507.44 L419.28,507.94 L419.54,508.41 L419.83,508.87 L420.13,509.3 L420.45,509.72 L420.78,510.12 L421.12,510.5 L421.46,510.88 L421.8,511.24 L422.15,511.6 L422.48,511.95 L422.55,511.6 L422.43,511.37 L422.09,511.78 L421.75,512.2 L421.41,512.63 L421.07,513.07 L420.73,513.52 L420.4,513.98 L420.09,514.46 L419.79,514.96 L419.51,515.48 L419.26,516.02 L419.03,516.58 L418.85,517.17 L418.7,517.78 L418.6,518.42 L418.55,519.07 L418.53,519.92 L418.52,520.72 L418.52,521.49 L418.54,522.23 L418.57,522.94 L418.63,523.65 L418.69,524.35 L418.76,525.06 L418.82,525.78 L418.88,526.53 L418.94,527.32 L418.99,528.16 L419.04,529.05 L419.07,530.01 L419.09,531.05 L419.1,532.17 L419.12,533.28 L419.12,534.34 L419.09,535.37 L419.04,536.34 L418.96,537.28 L418.87,538.18 L418.75,539.03 L418.62,539.85 L418.48,540.63 L418.32,541.37 L418.14,542.08 L417.96,542.75 L417.76,543.39 L417.56,544 L417.34,544.58 L417.12,545.13 L416.9,545.65 L416.68,546.14 L416.45,546.6 L416.22,547.04 L416,547.46 L415.78,547.85 L415.56,548.23 L415.38,548.61 L416.42,549.39 L416.74,549.09 L417.05,548.74 L417.36,548.36 L417.66,547.94 L417.97,547.5 L418.28,547.02 L418.59,546.51 L418.89,545.97 L419.19,545.4 L419.48,544.79 L419.77,544.15 L420.04,543.47 L420.31,542.75 L420.56,541.99 L420.8,541.2 L421.03,540.37 L421.24,539.49 L421.43,538.58 L421.6,537.62 L421.75,536.62 L421.87,535.57 L421.97,534.49 L422.05,533.35 L422.1,532.17 L422.09,531 L422.07,529.92 L422.03,528.92 L421.99,527.99 L421.93,527.12 L421.87,526.3 L421.81,525.53 L421.74,524.79 L421.68,524.08 L421.62,523.39 L421.56,522.7 L421.48,522.02 L421.41,521.33 L421.34,520.62 L421.29,519.87 L421.25,519.09 L421.25,518.64 L421.28,518.2 L421.34,517.77 L421.44,517.35 L421.57,516.93 L421.74,516.5 L421.92,516.08 L422.14,515.66 L422.38,515.24 L422.64,514.81 L422.91,514.39 L423.2,513.96 L423.5,513.53 L423.81,513.1 L424.12,512.67 L424.65,511.6 L424.07,510.53 L423.76,510.15 L423.45,509.78 L423.15,509.41 L422.86,509.05 L422.59,508.68 L422.33,508.32 L422.09,507.96 L421.88,507.6 L421.7,507.25 L421.55,506.9 L421.42,506.55 L421.33,506.21 L421.27,505.87 L421.24,505.53 L421.25,505.16 L421.29,504.51 L421.34,503.88 L421.41,503.27 L421.48,502.69 L421.56,502.11 L421.61,501.52 L421.68,500.93 L421.74,500.32 L421.81,499.69 L421.87,499.02 L421.93,498.31 L421.99,497.56 L422.03,496.75 L422.07,495.89 L422.09,494.95 L422.1,493.94 L422.05,492.92 L421.97,491.94 L421.87,490.99 L421.74,490.08 L421.59,489.22 L421.42,488.39 L421.23,487.59 L421.02,486.83 L420.79,486.11 L420.55,485.42 L420.29,484.77 L420.02,484.15 L419.75,483.56 L419.46,483 L419.16,482.48 L418.86,481.98 L418.56,481.52 L418.25,481.08 L417.94,480.67 L417.63,480.29 L417.32,479.94 L417.02,479.61 L416.71,479.32 L416.39,479.07Z" fill="#000"/><path d="M415.43,549.95 L415.62,550.26 L415.83,550.56 L416.05,550.88 L416.28,551.2 L416.51,551.55 L416.73,551.91 L416.95,552.29 L417.17,552.7 L417.39,553.12 L417.6,553.57 L417.8,554.03 L417.99,554.53 L418.17,555.04 L418.34,555.58 L418.5,556.15 L418.64,556.75 L418.77,557.37 L418.88,558.02 L418.97,558.7 L419.04,559.42 L419.09,560.16 L419.12,560.94 L419.12,561.75 L419.1,562.6 L419.09,563.46 L419.07,564.26 L419.04,564.99 L418.99,565.68 L418.94,566.32 L418.89,566.92 L418.82,567.5 L418.76,568.06 L418.69,568.61 L418.63,569.16 L418.57,569.71 L418.54,570.28 L418.52,570.87 L418.52,571.47 L418.53,572.11 L418.55,572.8 L418.6,573.35 L418.71,573.9 L418.87,574.42 L419.07,574.91 L419.3,575.37 L419.57,575.81 L419.86,576.23 L420.16,576.62 L420.48,577 L420.81,577.36 L421.15,577.71 L421.5,578.05 L421.84,578.38 L422.18,578.71 L422.52,579.02 L422.55,578.6 L422.51,578.19 L422.18,578.5 L421.84,578.83 L421.49,579.16 L421.15,579.51 L420.81,579.86 L420.48,580.23 L420.16,580.61 L419.85,581.01 L419.57,581.43 L419.3,581.87 L419.07,582.34 L418.87,582.84 L418.71,583.36 L418.6,583.91 L418.55,584.46 L418.53,585.16 L418.52,585.8 L418.52,586.41 L418.54,587 L418.57,587.58 L418.63,588.14 L418.69,588.69 L418.76,589.25 L418.82,589.81 L418.89,590.4 L418.94,591.01 L418.99,591.66 L419.04,592.35 L419.07,593.09 L419.09,593.9 L419.1,594.77 L419.12,595.63 L419.12,596.45 L419.09,597.23 L419.04,597.98 L418.97,598.71 L418.88,599.4 L418.77,600.05 L418.64,600.69 L418.5,601.29 L418.34,601.86 L418.17,602.41 L417.99,602.93 L417.8,603.43 L417.6,603.9 L417.39,604.35 L417.17,604.78 L416.95,605.19 L416.73,605.57 L416.5,605.94 L416.28,606.29 L416.05,606.62 L415.83,606.93 L415.62,607.24 L415.43,607.55 L416.37,608.45 L416.69,608.23 L416.99,607.96 L417.3,607.67 L417.61,607.34 L417.92,607 L418.23,606.62 L418.54,606.22 L418.84,605.8 L419.15,605.34 L419.44,604.86 L419.73,604.35 L420.01,603.81 L420.28,603.24 L420.54,602.63 L420.78,602 L421.01,601.33 L421.22,600.63 L421.42,599.9 L421.59,599.13 L421.74,598.33 L421.87,597.5 L421.97,596.62 L422.05,595.72 L422.1,594.77 L422.09,593.84 L422.07,592.98 L422.03,592.19 L421.99,591.44 L421.93,590.75 L421.87,590.1 L421.81,589.49 L421.74,588.9 L421.67,588.34 L421.61,587.8 L421.55,587.27 L421.48,586.74 L421.4,586.21 L421.34,585.66 L421.29,585.09 L421.25,584.5 L421.24,584.18 L421.27,583.89 L421.32,583.6 L421.41,583.29 L421.53,582.99 L421.68,582.67 L421.86,582.35 L422.07,582.03 L422.3,581.7 L422.55,581.37 L422.83,581.04 L423.12,580.7 L423.42,580.36 L423.73,580.02 L424.04,579.68 L424.65,578.6 L424.04,577.52 L423.72,577.18 L423.41,576.84 L423.11,576.51 L422.82,576.18 L422.55,575.85 L422.3,575.52 L422.06,575.19 L421.86,574.87 L421.68,574.56 L421.53,574.25 L421.41,573.94 L421.32,573.65 L421.27,573.36 L421.24,573.07 L421.25,572.76 L421.29,572.18 L421.34,571.61 L421.4,571.07 L421.48,570.54 L421.55,570.02 L421.61,569.5 L421.67,568.96 L421.74,568.41 L421.81,567.83 L421.87,567.22 L421.93,566.58 L421.99,565.89 L422.03,565.15 L422.07,564.36 L422.09,563.51 L422.1,562.59 L422.05,561.66 L421.97,560.76 L421.87,559.89 L421.74,559.06 L421.59,558.27 L421.42,557.51 L421.22,556.78 L421.01,556.09 L420.78,555.43 L420.54,554.8 L420.28,554.21 L420.01,553.64 L419.73,553.11 L419.44,552.6 L419.14,552.12 L418.84,551.67 L418.53,551.25 L418.23,550.85 L417.92,550.48 L417.61,550.14 L417.3,549.82 L416.99,549.53 L416.69,549.26 L416.37,549.05Z" fill="#000"/><path d="M415.6,609.57 L415.8,609.78 L416.03,609.95 L416.26,610.13 L416.49,610.31 L416.72,610.5 L416.94,610.7 L417.17,610.91 L417.38,611.12 L417.59,611.34 L417.79,611.57 L417.99,611.81 L418.16,612.05 L418.33,612.3 L418.48,612.56 L418.62,612.83 L418.75,613.11 L418.85,613.39 L418.94,613.68 L419.02,613.98 L419.07,614.29 L419.11,614.61 L419.13,614.95 L419.12,615.3 L419.1,615.67 L419.09,616.06 L419.07,616.43 L419.04,616.76 L419.01,617.07 L418.96,617.37 L418.91,617.65 L418.85,617.92 L418.79,618.19 L418.72,618.47 L418.66,618.76 L418.59,619.06 L418.56,619.38 L418.53,619.72 L418.52,620.08 L418.53,620.45 L418.55,620.88 L418.62,621.33 L418.78,621.77 L419,622.15 L419.26,622.47 L419.53,622.75 L419.83,622.99 L420.13,623.21 L420.45,623.42 L420.77,623.6 L421.1,623.78 L421.44,623.95 L421.78,624.12 L422.12,624.28 L422.46,624.43 L422.79,624.58 L422.55,623.8 L422.75,623.05 L422.42,623.22 L422.08,623.39 L421.74,623.57 L421.4,623.75 L421.06,623.94 L420.73,624.14 L420.4,624.34 L420.09,624.57 L419.78,624.81 L419.49,625.07 L419.22,625.37 L418.97,625.71 L418.77,626.11 L418.62,626.55 L418.55,627.01 L418.53,627.45 L418.52,627.85 L418.53,628.23 L418.56,628.59 L418.59,628.94 L418.65,629.26 L418.72,629.57 L418.78,629.88 L418.84,630.18 L418.9,630.48 L418.96,630.8 L419,631.13 L419.04,631.48 L419.07,631.85 L419.09,632.26 L419.1,632.7 L419.12,633.12 L419.12,633.52 L419.1,633.9 L419.06,634.27 L419.01,634.62 L418.93,634.96 L418.83,635.29 L418.72,635.6 L418.6,635.91 L418.46,636.2 L418.3,636.49 L418.13,636.77 L417.95,637.03 L417.76,637.29 L417.56,637.54 L417.35,637.78 L417.13,638.01 L416.91,638.23 L416.69,638.45 L416.46,638.65 L416.23,638.85 L416,639.04 L415.78,639.22 L415.57,639.44 L416.23,640.56 L416.53,640.48 L416.82,640.35 L417.12,640.21 L417.43,640.05 L417.73,639.87 L418.04,639.67 L418.35,639.46 L418.66,639.23 L418.97,638.98 L419.28,638.72 L419.57,638.43 L419.87,638.13 L420.15,637.8 L420.42,637.46 L420.68,637.09 L420.93,636.69 L421.16,636.28 L421.36,635.84 L421.55,635.38 L421.72,634.89 L421.86,634.38 L421.97,633.84 L422.05,633.29 L422.1,632.72 L422.09,632.17 L422.07,631.66 L422.03,631.19 L421.98,630.75 L421.92,630.33 L421.85,629.95 L421.79,629.6 L421.72,629.26 L421.65,628.95 L421.59,628.66 L421.54,628.39 L421.46,628.13 L421.4,627.87 L421.34,627.61 L421.29,627.33 L421.25,627.07 L421.23,627.05 L421.21,627.03 L421.22,626.97 L421.26,626.88 L421.34,626.75 L421.46,626.6 L421.62,626.43 L421.82,626.25 L422.05,626.07 L422.3,625.88 L422.58,625.69 L422.87,625.5 L423.17,625.31 L423.48,625.11 L423.8,624.91 L424.65,623.8 L423.77,622.69 L423.45,622.5 L423.14,622.32 L422.83,622.14 L422.54,621.96 L422.26,621.79 L422.01,621.62 L421.78,621.45 L421.58,621.28 L421.42,621.13 L421.3,620.99 L421.22,620.88 L421.19,620.8 L421.2,620.77 L421.22,620.79 L421.25,620.8 L421.29,620.58 L421.34,620.34 L421.39,620.12 L421.46,619.89 L421.53,619.66 L421.59,619.41 L421.65,619.15 L421.71,618.86 L421.78,618.56 L421.85,618.23 L421.92,617.87 L421.98,617.49 L422.03,617.08 L422.07,616.64 L422.09,616.16 L422.1,615.65 L422.05,615.12 L421.96,614.59 L421.85,614.09 L421.71,613.62 L421.54,613.16 L421.35,612.73 L421.14,612.32 L420.91,611.93 L420.66,611.57 L420.4,611.23 L420.12,610.91 L419.84,610.61 L419.54,610.33 L419.24,610.07 L418.94,609.83 L418.63,609.61 L418.32,609.4 L418.01,609.21 L417.7,609.04 L417.4,608.88 L417.1,608.73 L416.8,608.6 L416.5,608.49 L416.2,608.43Z" fill="#000"/><g font-family="Liberation Serif" font-size="13.1" fill="#000"><text transform="translate(430.5,139.4) scale(1,1.05)">Genes associated with the transport of</text><text transform="translate(440.5,154.1) scale(1,1.05)">various nutritional elements</text><text transform="translate(431,304.6) scale(1,1.05)">Genes associated with disease</text><text transform="translate(437.6,319.4) scale(1,1.05)">and stress resistance</text><text transform="translate(434.6,442.5) scale(1,1.05)">Genes associated with cell structure</text><text transform="translate(433,516.6) scale(1,1.05)">Genes associated with hormone</text><text transform="translate(439.6,532.3) scale(1,1.05)">synthesis and metabolism</text><text transform="translate(432.8,581.6) scale(1,1.05)">Genes associated with MYB transcription factor</text><text transform="translate(433,627.4) scale(1,1.05)">Genes associated with senescence</text></g></svg>
</body></html>
